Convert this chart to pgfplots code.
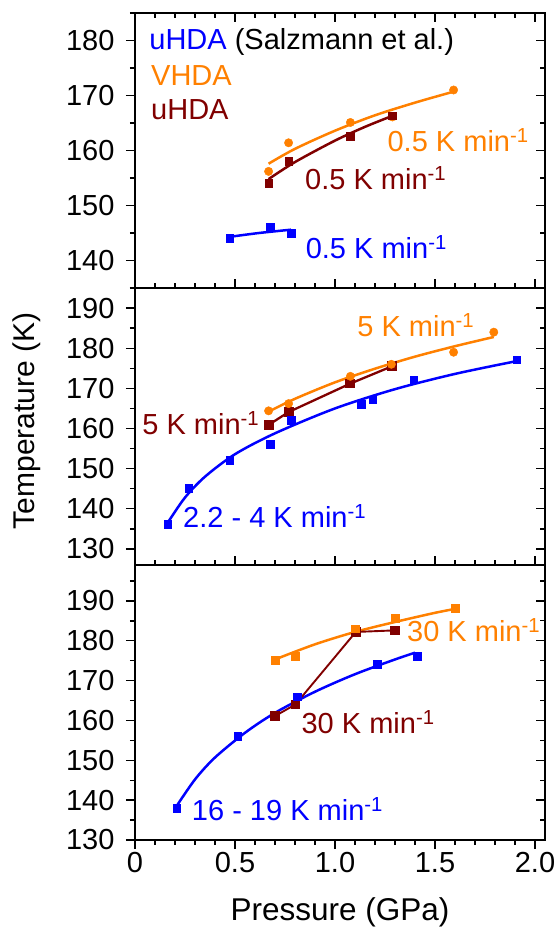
\documentclass[border=0pt]{standalone}
\usepackage{pgfplots}
\pgfplotsset{compat=1.18}
\usepackage{fontspec}
\setmainfont{Liberation Sans}
\definecolor{cblue}{RGB}{0,0,255}
\definecolor{corange}{RGB}{255,128,0}
\definecolor{cmaroon}{RGB}{128,0,0}

\pgfplotsset{
  panel/.style={
    width=410pt, scale only axis, xmin=0, xmax=2.05,
    axis line style={line width=1.6pt},
    tick style={line width=1.4pt, black},
    major tick length=9pt, minor tick length=5pt,
    font=\fontsize{29}{34}\selectfont,
    /pgf/number format/assume math mode=true,
    ytick distance=10, minor y tick num=1,
    xtick={0,0.5,1,1.5,2}, minor x tick num=4,
    clip=false,
  },
  front/.style={panel, ytick pos=left, tick align=outside,
    yticklabel style={anchor=east, xshift=-8pt}},
  back/.style={panel, axis line style={draw=none}, tick align=inside,
    ytick pos=right, xticklabels={}, yticklabels={}},
  pts/.style={only marks, mark=square*, mark size=3.8pt},
  dots/.style={only marks, mark=*, mark size=4.2pt},
  fit/.style={no markers, smooth, line width=2.5pt},
}
\tikzset{lbl/.style={anchor=base west, inner sep=0pt, font=\fontsize{29}{34}\selectfont}}

\begin{document}
\begin{tikzpicture}
\useasboundingbox (-135pt,-90pt) rectangle (421pt,840pt);

% top panel: 0.5 K/min
\begin{axis}[front, at={(0,552pt)}, anchor=south west, height=275pt,
  ymin=135, ymax=185, xtick=\empty]
\addplot[fit, cblue] coordinates {(0.473,144.3) (0.62,145.0) (0.78,145.6)};
\addplot[fit, corange] coordinates {(0.668,157.6) (0.8,160.3) (1.0,163.6) (1.2,166.4) (1.4,168.7) (1.593,170.7)};
\addplot[fit, cmaroon] coordinates {(0.668,154.8) (0.8,157.9) (1.0,161.8) (1.15,164.3) (1.287,166.3)};
\addplot[pts, cblue] coordinates {(0.473,144.1) (0.677,146.0) (0.78,145.0)};
\addplot[dots, corange] coordinates {(0.668,156.2) (0.768,161.4) (1.077,165.1) (1.287,166.1) (1.593,171.0)};
\addplot[pts, cmaroon] coordinates {(0.668,154.1) (0.768,158.0) (1.077,162.6) (1.287,166.3)};
\node[lbl] at (axis cs:0.071,178.3) {\textcolor{cblue}{uHDA} (Salzmann et al.)};
\node[lbl, text=corange] at (axis cs:0.08,171.8) {VHDA};
\node[lbl, text=cmaroon] at (axis cs:0.08,165.6) {uHDA};
\node[lbl, text=corange] at (axis cs:1.262,159.9) {0.5 K min\textsuperscript{-1}};
\node[lbl, text=cmaroon] at (axis cs:0.850,152.9) {0.5 K min\textsuperscript{-1}};
\node[lbl, text=cblue] at (axis cs:0.853,140.3) {0.5 K min\textsuperscript{-1}};
\end{axis}
\begin{axis}[back, at={(0,552pt)}, anchor=south west, height=275pt,
  ymin=135, ymax=185, xtick pos=both]
\end{axis}

% middle panel: 5 K/min
\begin{axis}[front, at={(0,275pt)}, anchor=south west, height=277pt,
  ymin=126, ymax=195, xtick=\empty,
  ylabel={Temperature (K)},
  ylabel style={at={(axis description cs:-0.263,0.52)}, anchor=center,
    font=\fontsize{30}{36}\selectfont}]
\addplot[fit, cblue] coordinates {(0.163,136.5) (0.25,142.8) (0.35,148.0) (0.5,153.6) (0.7,158.8) (1.0,165.0) (1.3,169.8) (1.6,173.6) (1.909,176.8)};
\addplot[fit, corange] coordinates {(0.668,164.2) (0.8,167.4) (1.0,171.5) (1.2,174.9) (1.4,177.9) (1.6,180.5) (1.794,182.8)};
\addplot[cmaroon, line width=2.3pt, mark=square*, mark size=3.8pt] coordinates {(0.668,160.9) (0.768,164.1) (1.077,171.2) (1.285,175.5)};
\addplot[pts, cblue] coordinates {(0.163,136.2) (0.268,145.1) (0.473,152.1) (0.677,156.1) (0.78,162.1) (1.131,166.1) (1.189,167.2) (1.394,172.2) (1.909,177.1)};
\addplot[dots, corange] coordinates {(0.668,164.4) (0.768,166.2) (1.077,173.0) (1.282,176.0) (1.593,179.0) (1.794,184.0)};
\node[lbl, text=corange] at (axis cs:1.111,182.9) {5 K min\textsuperscript{-1}};
\node[lbl, text=cmaroon] at (axis cs:0.036,158.4) {5 K min\textsuperscript{-1}};
\node[lbl, text=cblue] at (axis cs:0.24,135.4) {2.2 - 4 K min\textsuperscript{-1}};
\end{axis}
\begin{axis}[back, at={(0,275pt)}, anchor=south west, height=277pt,
  ymin=126, ymax=195, xtick pos=bottom]
\end{axis}

% bottom panel: fast heating
\begin{axis}[front, at={(0,0)}, anchor=south west, height=275pt,
  ymin=130, ymax=199, xtick pos=bottom,
  xticklabels={0,0.5,1.0,1.5,2.0},
  xlabel={Pressure (GPa)},
  xlabel style={at={(axis description cs:0.5,-0.291)}, anchor=base,
    font=\fontsize{31.5}{38}\selectfont}]
\addplot[fit, cblue] coordinates {(0.208,138.5) (0.3,145.2) (0.4,150.7) (0.55,156.9) (0.7,161.9) (0.9,167.2) (1.1,171.6) (1.3,175.3) (1.4,177.0)};
\addplot[fit, corange] coordinates {(0.7,175.3) (0.9,179.1) (1.1,182.2) (1.3,184.7) (1.5,187.0) (1.602,188.0)};
\addplot[cmaroon, line width=1.9pt, mark=square*, mark size=3.8pt] coordinates {(0.70,161.1) (0.802,164.0) (1.104,182.2) (1.30,182.6)};
\addplot[pts, cblue] coordinates {(0.208,138.0) (0.514,156.0) (0.812,166.0) (1.212,174.1) (1.412,176.1)};
\addplot[pts, corange] coordinates {(0.700,175.1) (0.802,176.1) (1.100,183.0) (1.30,185.7) (1.602,188.1)};
\node[lbl, text=corange] at (axis cs:1.36,179.9) {30 K min\textsuperscript{-1}};
\node[lbl, text=cmaroon] at (axis cs:0.832,156.6) {30 K min\textsuperscript{-1}};
\node[lbl, text=cblue] at (axis cs:0.284,134.9) {16 - 19 K min\textsuperscript{-1}};
\end{axis}
\begin{axis}[back, at={(0,0)}, anchor=south west, height=275pt,
  ymin=130, ymax=199, xtick=\empty]
\end{axis}
\end{tikzpicture}
\end{document}
